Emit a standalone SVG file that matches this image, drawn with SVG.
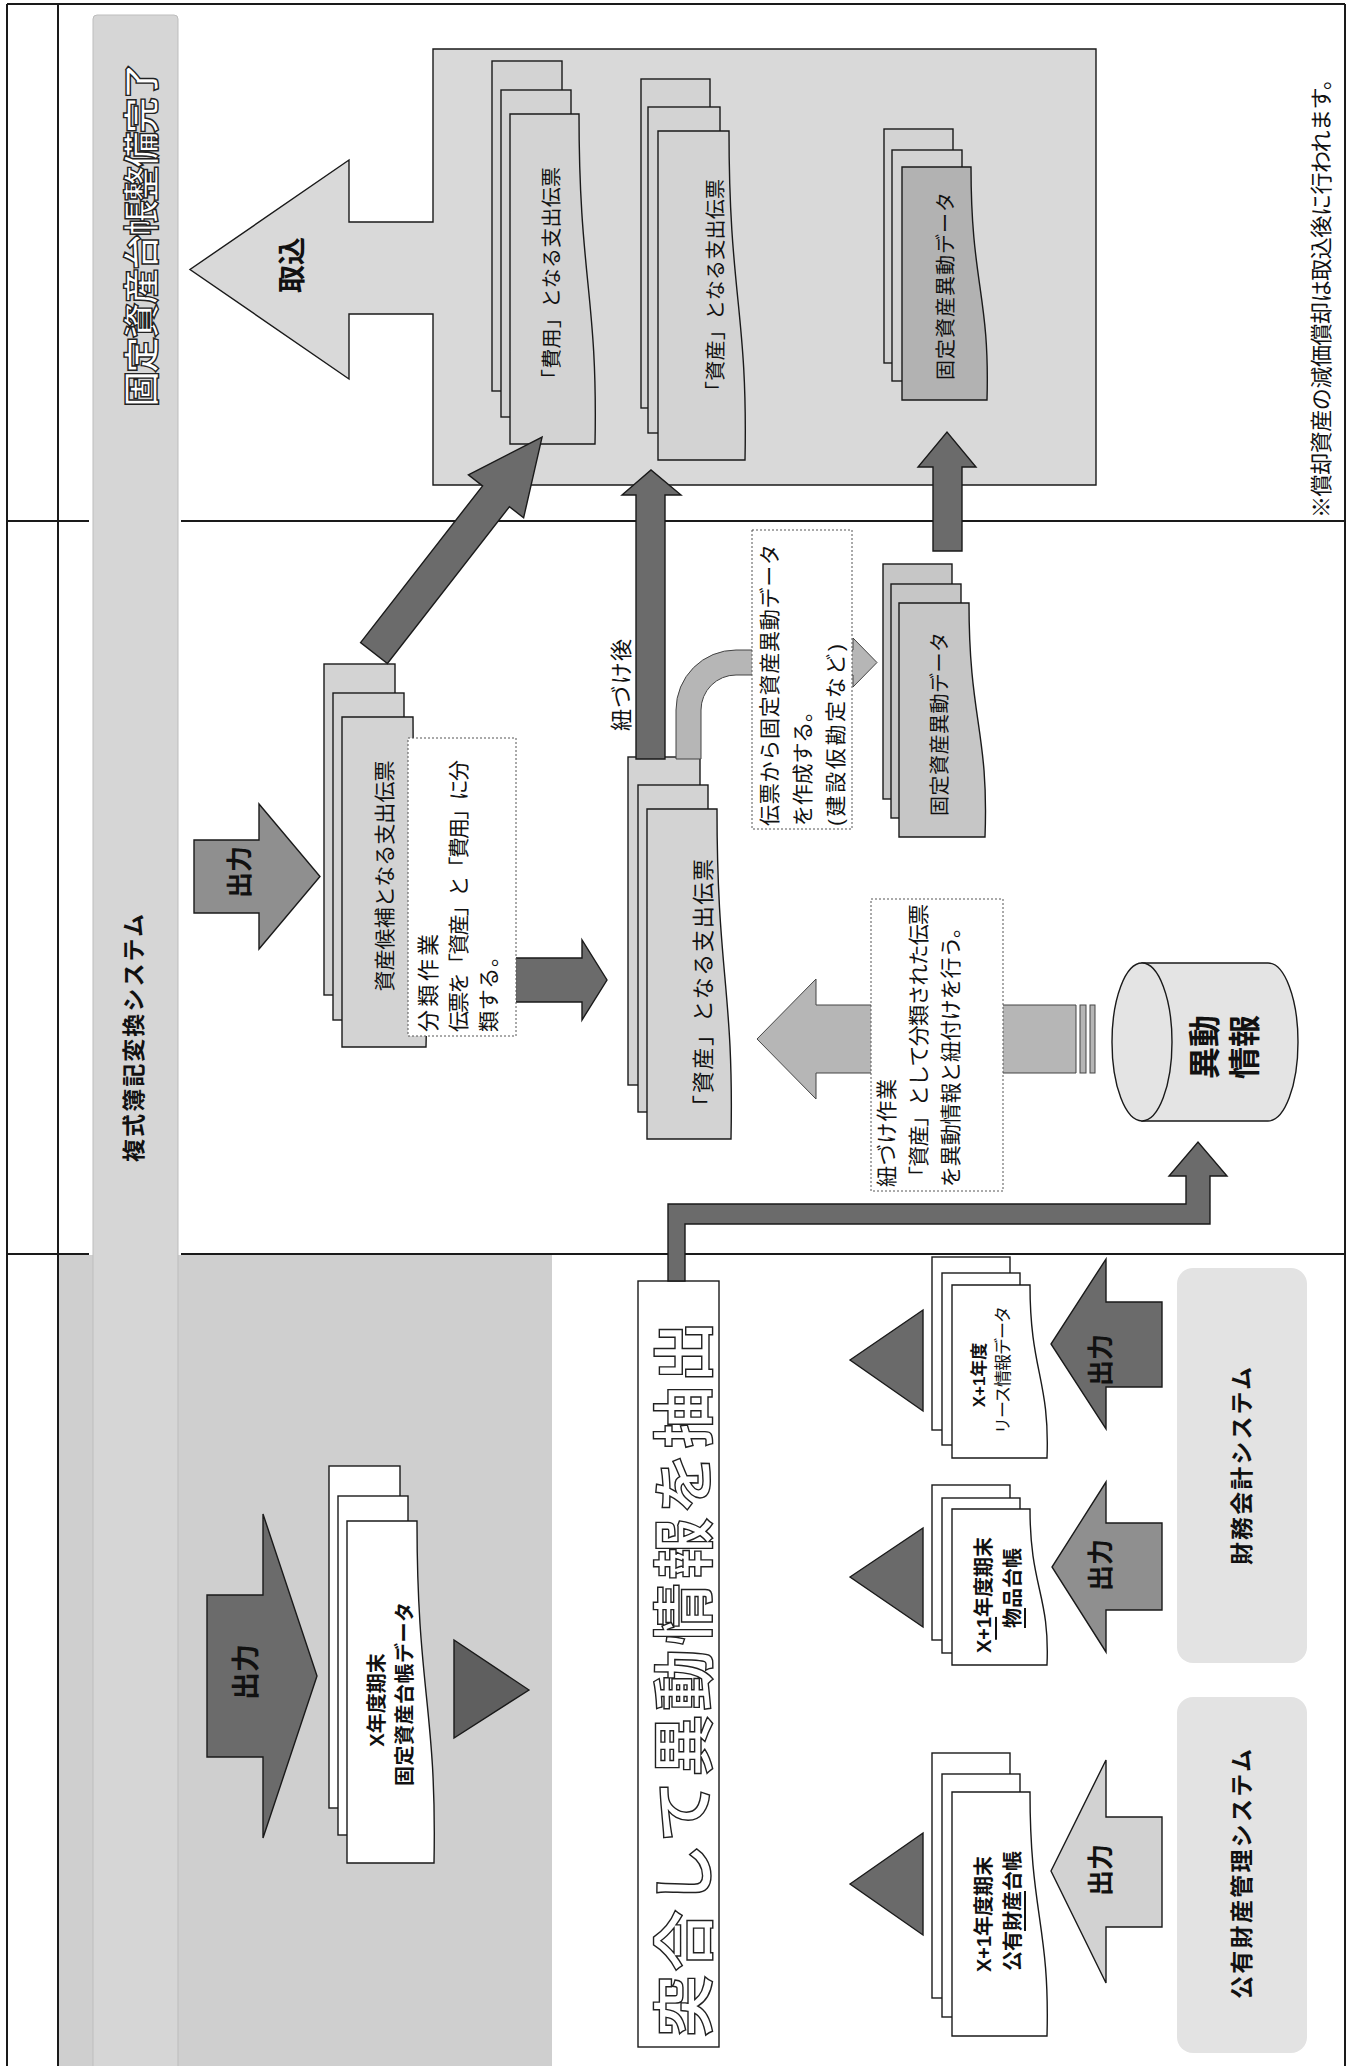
<svg xmlns="http://www.w3.org/2000/svg" width="1351" height="2066" viewBox="0 0 1351 2066">
<style>
  .ln{stroke:#1a1a1a;stroke-width:2;fill:none}
  .ol{stroke:#1a1a1a;stroke-width:1.4}
  .thin{stroke:#444;stroke-width:1}
  .note{fill:#fff;stroke:#555;stroke-width:1;stroke-dasharray:2 2}
  .bg1{fill:#d9d9d9}
  .d1{fill:#d3d3d3}
  .d2{fill:#c6c6c6}
  .d3{fill:#b2b2b2}
  .wt{fill:#fff}
  .dark{fill:#6b6b6b}
  .mid{fill:#8f8f8f}
  .soft{fill:#b6b6b6}
  .pale{fill:#d2d2d2}
  text{font-family:"Liberation Sans","Noto Sans CJK JP",sans-serif;fill:#111}
  .c{text-anchor:middle;dominant-baseline:central}
  .s{text-anchor:start;dominant-baseline:central}
  .b{font-weight:bold}
  .hollow{fill:#fff;stroke:#222;stroke-width:1.4;font-weight:bold}
  .u{text-decoration:underline}
</style>

<rect width="1351" height="2066" fill="#fff"/>

<!-- page frame, swimlane dividers and lane headers -->
<g id="frame">
  <rect x="58" y="1255" width="494" height="811" fill="#cfcfcf"/>
  <rect x="93" y="15" width="85" height="2060" rx="4" fill="#d6d6d6" stroke="#bdbdbd" stroke-width="1"/>
  <line class="ln" x1="7" y1="4" x2="1345" y2="4"/>
  <line class="ln" x1="7" y1="4" x2="7" y2="2066"/>
  <line class="ln" x1="58" y1="4" x2="58" y2="2066"/>
  <line class="ln" x1="1345" y1="4" x2="1345" y2="2066"/>
  <line class="ln" x1="7" y1="521" x2="89" y2="521"/>
  <line class="ln" x1="181" y1="521" x2="1345" y2="521"/>
  <line class="ln" x1="7" y1="1254" x2="89" y2="1254"/>
  <line class="ln" x1="181" y1="1254" x2="1345" y2="1254"/>
  <rect x="1177" y="1268" width="130" height="395" rx="16" fill="#e3e3e3"/>
  <rect x="1177" y="1697" width="130" height="356" rx="16" fill="#e3e3e3"/>
</g>

<!-- import target area with its arrow -->
<g id="import-area">
  <path class="ol bg1" d="M433,49 H1096 V485 H433 V314 H349 V379 L190,269.5 L349,160 V222 H433 Z"/>
</g>

<!-- slips that become expenses -->
<g id="expense-slips">
  <rect class="ol d1" x="492" y="61" width="70" height="330"/>
  <rect class="ol d1" x="501" y="90" width="70" height="327"/>
  <path class="ol d1" d="M510,114 H579 C579,279 598,296 595,444 H510 Z"/>
</g>

<!-- slips that become assets (imported) -->
<g id="asset-slips-imported">
  <rect class="ol d1" x="641" y="79" width="69" height="329"/>
  <rect class="ol d1" x="648" y="107" width="72" height="326"/>
  <path class="ol d1" d="M658,131 H729 C729,296 748,312 745,460 H658 Z"/>
</g>

<!-- fixed asset change data (imported) -->
<g id="change-data-imported">
  <rect class="ol d1" x="884" y="129" width="69" height="234"/>
  <rect class="ol d1" x="892" y="150" width="70" height="231"/>
  <path class="ol d3" d="M902,167 H971 C971,284 990,295 987,400 H902 Z"/>
</g>

<!-- asset candidate slips -->
<g id="candidate-slips">
  <rect class="ol d1" x="324" y="664" width="71" height="331"/>
  <rect class="ol d1" x="333" y="693" width="71" height="327"/>
  <path class="ol d1" d="M342,717 H413 C413,882 430,898 426,1047 H342 Z"/>
</g>

<!-- slips classified as assets -->
<g id="asset-slips">
  <rect class="ol d1" x="628" y="757" width="72" height="328"/>
  <rect class="ol d1" x="638" y="785" width="70" height="327"/>
  <path class="ol d1" d="M647,809 H717 C717,974 734,990 731,1139 H647 Z"/>
</g>

<!-- fixed asset change data (created) -->
<g id="change-data">
  <rect class="ol d2" x="883" y="564" width="69" height="235"/>
  <rect class="ol d2" x="891" y="584" width="70" height="234"/>
  <path class="ol d2" d="M899,603 H969 C969,720 989,732 985,837 H899 Z"/>
</g>

<!-- change information store -->
<g id="change-info">
  <path class="ol" fill="#e4e4e4" d="M1142,963 H1268 A30,79 0 0 1 1268,1121 H1142 Z"/>
  <ellipse class="ol" fill="#e4e4e4" cx="1142" cy="1042" rx="30" ry="79"/>
</g>

<!-- ledger data at end of year X -->
<g id="ledger-x">
  <rect class="ol wt" x="329" y="1466" width="71" height="342"/>
  <rect class="ol wt" x="338" y="1496" width="70" height="339"/>
  <path class="ol wt" d="M347,1521 H417 C417,1692 437,1709 434,1863 H347 Z"/>
  <path class="ol" fill="#5f5f5f" d="M529,1690 L454,1640 L454,1738 Z"/>
</g>

<!-- lease data X+1 -->
<g id="lease-data">
  <rect class="ol wt" x="932" y="1257" width="78" height="173"/>
  <rect class="ol wt" x="942" y="1273" width="78" height="172"/>
  <path class="ol wt" d="M952,1285 H1030 C1030,1371 1050,1380 1047,1458 H952 Z"/>
  <path class="ol" fill="#6a6a6a" d="M850,1360 L923,1310 L923,1411 Z"/>
</g>

<!-- goods ledger X+1 -->
<g id="goods-ledger">
  <rect class="ol wt" x="932" y="1485" width="78" height="155"/>
  <rect class="ol wt" x="942" y="1498" width="78" height="155"/>
  <path class="ol wt" d="M952,1509 H1030 C1030,1587 1050,1595 1047,1665 H952 Z"/>
  <path class="ol" fill="#6a6a6a" d="M850,1577 L923,1528 L923,1627 Z"/>
</g>

<!-- public property ledger X+1 -->
<g id="property-ledger">
  <rect class="ol wt" x="932" y="1753" width="78" height="245"/>
  <rect class="ol wt" x="942" y="1774" width="78" height="243"/>
  <path class="ol wt" d="M952,1792 H1030 C1030,1914 1050,1926 1047,2036 H952 Z"/>
  <path class="ol" fill="#6a6a6a" d="M850,1884 L923,1833 L923,1935 Z"/>
</g>

<!-- reconciliation step -->
<g id="reconcile">
  <rect class="ol wt" x="638" y="1281" width="81" height="766"/>
</g>

<!-- connectors -->
<g id="connectors">
  <!-- output arrows -->
  <path class="ol mid" d="M194,840 H259 V804 L320,876.5 L259,949 V913 H194 Z"/>
  <path class="ol dark" d="M207,1595 H263 V1514 L317,1676 L263,1838 V1757 H207 Z"/>
  <path class="ol dark" d="M1162,1302 H1106 V1259 L1051,1344 L1106,1429 V1387 H1162 Z"/>
  <path class="ol mid" d="M1162,1523 H1106 V1482 L1052,1567 L1106,1652 V1610 H1162 Z"/>
  <path class="ol pale" d="M1162,1817 H1106 V1760 L1051,1871 L1106,1983 V1927 H1162 Z"/>
  <!-- classification to asset slips -->
  <path class="ol dark" d="M514,958 H582 V940 L607,980 L582,1020 V1002 H514 Z"/>
  <!-- candidate slips to expense slips -->
  <path class="ol dark" transform="translate(374 653) rotate(-52.1)" d="M0,-17 H198.6 V-35 L273.6,0 L198.6,35 V17 H0 Z"/>
  <!-- linked slips up to import -->
  <path class="ol dark" d="M636,759 V495 H622 L651,470 L681,495 H665 V759 Z"/>
  <!-- change data up to import -->
  <path class="ol dark" d="M933,551 V467 H918 L947,432 L976,467 H962 V551 Z"/>
  <!-- slips to change data creation -->
  <path class="thin soft" d="M676,759 V710 A60,60 0 0 1 736,650 H853 V638 L877,662.5 L853,687 V675 H736 A35,35 0 0 0 701,710 V759 Z"/>
  <!-- change info to asset slips -->
  <path class="thin soft" d="M1076,1005 H816 V979 L757,1039 L816,1099 V1073 H1076 Z"/>
  <rect class="thin soft" x="1080" y="1005" width="6" height="68"/>
  <rect class="thin soft" x="1090" y="1005" width="5" height="68"/>
  <!-- extracted change info to store -->
  <path class="ol dark" d="M668,1281 V1204 H1186 V1176 H1169 L1198,1142 L1227,1176 H1210 V1224 H685 V1281 Z"/>
</g>

<!-- work notes -->
<g id="note-classify">
  <rect class="note" x="408" y="738" width="108" height="298"/>
  <text class="s" font-size="22" transform="translate(428 1032) rotate(-90)" textLength="98">分類作業</text>
  <text class="s" font-size="21" transform="translate(458 1032) rotate(-90)" textLength="272">伝票を「資産」と「費用」に分</text>
  <text class="s" font-size="21" transform="translate(488 1032) rotate(-90)" textLength="86">類する。</text>
</g>
<g id="note-create">
  <rect class="note" x="752" y="530" width="100" height="299"/>
  <text class="s" font-size="21" transform="translate(769 826) rotate(-90)" textLength="282">伝票から固定資産異動データ</text>
  <text class="s" font-size="21" transform="translate(802 826) rotate(-90)" textLength="125">を作成する。</text>
  <text class="s" font-size="21" transform="translate(835 826) rotate(-90)" textLength="182">(建設仮勘定など)</text>
</g>
<g id="note-link">
  <rect class="note" x="871" y="899" width="132" height="292"/>
  <text class="s" font-size="21" transform="translate(886 1187) rotate(-90)" textLength="108">紐づけ作業</text>
  <text class="s" font-size="21" transform="translate(918 1187) rotate(-90)" textLength="283">「資産」として分類された伝票</text>
  <text class="s" font-size="21" transform="translate(950 1187) rotate(-90)" textLength="270">を異動情報と紐付けを行う。</text>
</g>

<!-- labels -->
<g id="labels">
  <text class="c hollow" font-size="36" transform="translate(142 235) rotate(-90)" textLength="344">固定資産台帳整備完了</text>
  <text class="c b" font-size="23" transform="translate(134 1038) rotate(-90)" textLength="248">複式簿記変換システム</text>
  <text class="c b" font-size="23" transform="translate(1242 1466) rotate(-90)" textLength="198">財務会計システム</text>
  <text class="c b" font-size="23" transform="translate(1242 1874) rotate(-90)" textLength="250">公有財産管理システム</text>
  <text class="c" font-size="22" transform="translate(1321 293) rotate(-90)" textLength="450">※償却資産の減価償却は取込後に行われます。</text>
  <text class="c hollow" font-size="62" transform="translate(685 1679) rotate(-90)" textLength="716">突合して異動情報を抽出</text>

  <text class="c b" font-size="28" transform="translate(292 265) rotate(-90)">取込</text>
  <text class="c b" font-size="26" transform="translate(240 872) rotate(-90)">出力</text>
  <text class="c b" font-size="28" transform="translate(246 1672) rotate(-90)">出力</text>
  <text class="c b" font-size="26" transform="translate(1101 1360) rotate(-90)">出力</text>
  <text class="c b" font-size="26" transform="translate(1101 1565) rotate(-90)">出力</text>
  <text class="c b" font-size="26" transform="translate(1101 1870) rotate(-90)">出力</text>

  <text class="c" font-size="20" transform="translate(552 278) rotate(-90)" textLength="222">「費用」となる支出伝票</text>
  <text class="c" font-size="20" transform="translate(716 290) rotate(-90)" textLength="222">「資産」となる支出伝票</text>
  <text class="c" font-size="20" transform="translate(946 286) rotate(-90)" textLength="188">固定資産異動データ</text>
  <text class="c" font-size="21" transform="translate(384 876) rotate(-90)" textLength="231">資産候補となる支出伝票</text>
  <text class="c" font-size="22" transform="translate(703 988) rotate(-90)" textLength="258">「資産」となる支出伝票</text>
  <text class="c" font-size="20" transform="translate(940 724) rotate(-90)" textLength="184">固定資産異動データ</text>
  <text class="c" font-size="22" transform="translate(621 685) rotate(-90)" textLength="92">紐づけ後</text>
  <text class="c b" font-size="32" transform="translate(1205 1047) rotate(-90)">異動</text>
  <text class="c b" font-size="32" transform="translate(1245 1047) rotate(-90)">情報</text>

  <text class="c b" font-size="20" transform="translate(377 1700) rotate(-90)">X年度期末</text>
  <text class="c b" font-size="20" transform="translate(405 1694) rotate(-90)" textLength="184">固定資産台帳データ</text>
  <text class="c b" font-size="17" transform="translate(979 1375) rotate(-90)">X+1年度</text>
  <text class="c" font-size="17" transform="translate(1003 1370) rotate(-90)" textLength="128">リース情報データ</text>
  <text class="c b" font-size="20" transform="translate(984 1595) rotate(-90)">X<tspan class="u">+1</tspan>年度期末</text>
  <text class="c b" font-size="20" transform="translate(1013 1588) rotate(-90)"><tspan class="u">物</tspan>品台帳</text>
  <text class="c b" font-size="20" transform="translate(984 1914) rotate(-90)">X+1年度期末</text>
  <text class="c b" font-size="20" transform="translate(1013 1911) rotate(-90)">公有<tspan class="u">財産</tspan>台帳</text>
</g>
</svg>
